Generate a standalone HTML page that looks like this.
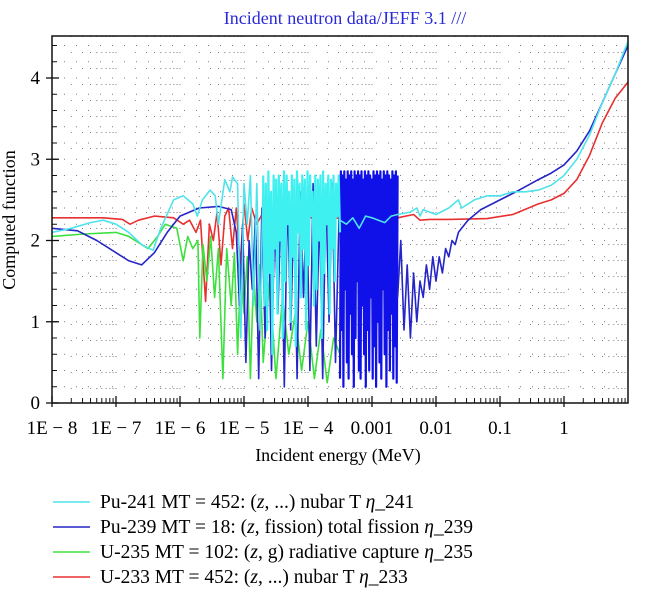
<!DOCTYPE html>
<html><head><meta charset="utf-8"><style>
html,body{margin:0;padding:0;background:#fff;width:653px;height:594px;overflow:hidden}
svg{display:block;font-family:"Liberation Serif",serif}
</style></head><body>
<svg id="chart" width="653" height="594" viewBox="0 0 653 594">
<text x="345" y="24" text-anchor="middle" font-size="18" fill="#2a2ad8">Incident neutron data/JEFF 3.1 ///</text>
<g id="grid"></g>
<g id="series"></g>
<g id="axes"></g>
<text transform="translate(15,220) rotate(-90)" text-anchor="middle" font-size="18">Computed function</text>
<text x="338" y="461" text-anchor="middle" font-size="18">Incident energy (MeV)</text>
<g font-size="19.5">
 <g><line x1="53" y1="502" x2="90" y2="502" stroke="#4fe3ec" stroke-width="1.5"/><text x="100" y="508">Pu-241 MT = 452: (<tspan font-style="italic">z</tspan>, ...) nubar T <tspan font-style="italic">η</tspan>_241</text></g>
 <g><line x1="53" y1="527" x2="90" y2="527" stroke="#2525c8" stroke-width="1.5"/><text x="100" y="533">Pu-239 MT = 18: (<tspan font-style="italic">z</tspan>, fission) total fission <tspan font-style="italic">η</tspan>_239</text></g>
 <g><line x1="53" y1="552" x2="90" y2="552" stroke="#3ee03e" stroke-width="1.5"/><text x="100" y="558">U-235 MT = 102: (<tspan font-style="italic">z</tspan>, g) radiative capture <tspan font-style="italic">η</tspan>_235</text></g>
 <g><line x1="53" y1="577" x2="90" y2="577" stroke="#e83030" stroke-width="1.5"/><text x="100" y="583">U-233 MT = 452: (<tspan font-style="italic">z</tspan>, ...) nubar T <tspan font-style="italic">η</tspan>_233</text></g>
</g>
</svg>
<script>
// log10(energy MeV) values
const xDecades = [-8,-7,-6,-5,-4,-3,-2,-1,0];
const xTickLabels = ["1E \u2212 8","1E \u2212 7","1E \u2212 6","1E \u2212 5","1E \u2212 4","0.001","0.01","0.1","1"];
const yTicks = [0,1,2,3,4];

const u233E = [-8,-7.2,-6.9,-6.78,-6.65,-6.4,-6.1,-5.95,-5.85,-5.75,-5.68,-5.6,-5.54,-5.48,-5.42,-5.36,-5.3,-5.24,-5.18,-5.12,-5.06,-5.0,-4.94,-4.88,-4.8,-4.7,-4.6,-4.5,-4.3,-3.8,-3.3,-2.6,-2.35,-2.25,-2.1,-1.8,-1.2,-0.8,-0.4,-0.2,0,0.2,0.4,0.6,0.8,1.0];
const u233Y = [2.28,2.28,2.26,2.2,2.25,2.3,2.28,2.2,2.25,2.1,2.25,1.25,2.2,2.0,2.35,1.7,2.3,2.4,1.9,2.4,1.7,2.45,2.0,2.4,2.2,2.35,2.1,2.3,2.28,2.28,2.27,2.28,2.32,2.25,2.26,2.26,2.27,2.32,2.45,2.5,2.58,2.75,3.05,3.45,3.75,3.95];

const u235E = [-8,-7.5,-7.0,-6.8,-6.6,-6.5,-6.35,-6.23,-6.05,-5.95,-5.88,-5.8,-5.72,-5.69,-5.64,-5.58,-5.52,-5.46,-5.4,-5.33,-5.27,-5.2,-5.15,-5.1,-5.05,-5.0,-4.95,-4.9,-4.85,-4.8,-4.75,-4.7,-4.6,-4.5,-4.4,-4.3,-4.2,-4.1,-4.0,-3.9,-3.8,-3.7,-3.6,-3.5];
const u235Y = [2.05,2.08,2.1,2.05,1.95,1.9,2.05,2.2,2.15,1.75,2.05,1.9,2.0,0.8,1.95,1.5,2.05,1.3,1.9,0.3,1.9,1.2,1.85,0.6,1.7,1.1,1.8,0.3,1.6,1.0,1.7,0.5,1.5,0.3,1.3,0.6,1.1,0.4,1.0,0.3,0.9,0.25,0.8,0.6];

const pu239E = [-8,-7.6,-7.3,-7.0,-6.8,-6.6,-6.4,-6.2,-6.0,-5.7,-5.4,-5.2,-5.12,-5.07,-5.02,-4.97,-4.92,-4.87,-4.82,-4.77,-4.72,-4.67,-4.62,-4.57,-4.52,-4.47,-4.42,-4.37,-4.32,-4.27,-4.22,-4.17,-4.12,-4.07,-4.02,-3.97,-3.92,-3.87,-3.82,-3.77,-3.72,-3.67,-3.62,-3.57,-3.5];
const pu239Y = [2.15,2.12,2.0,1.85,1.75,1.7,1.85,2.1,2.3,2.4,2.42,2.38,2.1,1.2,2.2,0.5,2.0,1.4,2.3,0.3,2.4,0.8,2.5,0.4,2.3,1.1,2.5,0.2,2.6,0.9,2.4,0.3,2.6,1.3,2.5,0.4,2.7,0.7,2.4,0.3,2.6,1.0,2.7,0.5,2.8];
const pu239DenseRange = [-3.5,-2.6];
const pu239DenseY = [0.3,2.85,0.9,2.8,0.2,2.85,1.4,2.75,0.5,2.85,0.3,2.8,1.1,2.85,0.6,2.75,0.2,2.85,0.8,2.8,1.5,2.85,0.4,2.8,0.3,2.85,1.2,2.75,0.6,2.85,0.2,2.8,0.9,2.85,0.4,2.8,1.3,2.75,0.3,2.85,0.7,2.8,0.2,2.85,1.0,2.8,0.5,2.85,0.3,2.75,1.4,2.85,0.6,2.8,0.2,2.85,0.9,2.8,0.4,2.75,1.1,2.85,0.3,2.8,0.7,2.85,0.25,2.8];
const pu239TailE = [-2.6,-2.55,-2.5,-2.45,-2.4,-2.35,-2.3,-2.25,-2.2,-2.15,-2.1,-2.05,-2.0,-1.95,-1.9,-1.85,-1.8,-1.75,-1.7,-1.65,-1.6,-1.5,-1.3,-1.0,-0.7,-0.4,-0.2,0,0.2,0.4,0.6,0.8,1.0];
const pu239TailY = [1.3,2.0,0.9,1.7,0.8,1.6,1.0,1.5,1.3,1.7,1.4,1.8,1.5,1.8,1.6,1.9,1.8,2.0,1.95,2.1,2.15,2.25,2.38,2.5,2.62,2.75,2.83,2.93,3.1,3.35,3.7,4.05,4.4];

const pu241E = [-8,-7.7,-7.4,-7.2,-7.0,-6.8,-6.6,-6.42,-6.3,-6.1,-5.95,-5.8,-5.73,-5.65,-5.53,-5.45,-5.4,-5.3,-5.22,-5.18,-5.1,-5.05,-5.0,-4.95,-4.9,-4.85,-4.8,-4.75,-4.7];
const pu241Y = [2.1,2.15,2.22,2.25,2.2,2.1,1.95,1.88,2.15,2.5,2.55,2.45,2.3,2.5,2.62,2.55,2.2,2.75,2.6,2.78,2.7,0.8,2.7,2.2,2.8,1.2,2.7,0.9,2.75];
const pu241DenseRange = [-4.7,-3.5];
const pu241DenseY = [2.8,1.2,2.7,0.9,2.85,1.6,2.6,0.6,2.8,1.9,2.75,1.1,2.8,2.0,2.7,0.8,2.85,1.5,2.8,2.2,2.6,1.0,2.8,1.8,2.75,0.7,2.85,2.1,2.7,1.3,2.8,1.9,2.75,0.9,2.85,1.7,2.8,2.3,2.6,1.2,2.8,1.4,2.75,2.0,2.8,0.8,2.85,1.6,2.7,2.2,2.8,1.1,2.75,1.9,2.8,1.5,2.7,2.3,2.8,2.1];
const pu241TailE = [-3.5,-3.4,-3.3,-3.2,-3.1,-3.0,-2.9,-2.8,-2.7,-2.6,-2.4,-2.3,-2.25,-2.2,-2.0,-1.8,-1.65,-1.6,-1.4,-1.2,-1.0,-0.8,-0.6,-0.4,-0.2,0,0.2,0.4,0.6,0.8,1.0];
const pu241TailY = [2.25,2.2,2.28,2.15,2.3,2.28,2.25,2.22,2.3,2.32,2.35,2.4,2.3,2.38,2.32,2.4,2.5,2.4,2.5,2.55,2.55,2.6,2.6,2.62,2.68,2.8,3.0,3.3,3.7,4.05,4.45];

const L=52,R=628,T=36,B=403;
const X = lx => L + (lx+8)*(R-L)/9;
const Y = v => B - v*81.25;
const NS="http://www.w3.org/2000/svg";
function mk(tag,attrs,parent){const e=document.createElementNS(NS,tag);for(const k in attrs)e.setAttribute(k,attrs[k]);parent.appendChild(e);return e;}
const grid=document.getElementById('grid'), axes=document.getElementById('axes'), series=document.getElementById('series');

for(let d=-8; d<1; d++){ for(let m=1;m<=9;m++){ const x=X(d+Math.log10(m)); if(x<=L+1) continue;
  const gl=mk('line',{x1:x,y1:T,x2:x,y2:B,stroke:'#444','stroke-width':1,'stroke-dasharray':'1 15',opacity:0.7},grid);
  
  
  const t=mk('line',{x1:x,y1:B,x2:x,y2:B-(m===1?0:5),stroke:'#111','stroke-width':1},axes);
  
  
}}
for(let i=1;i<=22;i++){ const y=Y(i*0.2); if(y<T+2) continue;
  const gl=mk('line',{x1:L,y1:y,x2:R,y2:y,stroke:'#444','stroke-width':1,'stroke-dasharray':'1 11',opacity:0.7},grid);
  
  
  const t=mk('line',{x1:L,y1:y,x2:L+5,y2:y,stroke:'#111','stroke-width':1},axes);
  
  
}

function poly(xs,ys,color,name,w){
  const pts=xs.map((x,i)=>X(x).toFixed(1)+','+Y(ys[i]).toFixed(1)).join(' ');
  const p=mk('polyline',{points:pts,fill:'none',stroke:color,'stroke-width':w||1.6,'stroke-linejoin':'round'},series);
  
  
}
function dense(range,ys,color,name){
  const xs=ys.map((_,i)=>range[0]+(range[1]-range[0])*i/(ys.length-1));
  poly(xs,ys,color,name,2.2);
}
poly(u233E,u233Y,'#e83030','series-u233');
poly(u235E,u235Y,'#3ee03e','series-u235');
poly(pu239E,pu239Y,'#2525c8','series-pu239');
dense(pu239DenseRange,pu239DenseY,'#1010e8','series-pu239-resonances');
poly(pu239TailE,pu239TailY,'#2525c8','series-pu239-tail');
poly(pu241E,pu241Y,'#4fe3ec','series-pu241');
dense(pu241DenseRange,pu241DenseY,'#3ff0f0','series-pu241-resonances');
poly(pu241TailE,pu241TailY,'#4fe3ec','series-pu241-tail');

const fr=mk('rect',{x:L,y:T,width:R-L,height:B-T,fill:'none',stroke:'#111','stroke-width':1.5},axes);


xDecades.forEach((d,i)=>{
  const x=X(d);
  const t=mk('line',{x1:x,y1:B-7,x2:x,y2:B+4,stroke:'#111','stroke-width':1.3},axes);
  
  
  const lb=mk('text',{x:x,y:434,'text-anchor':'middle','font-size':19},axes);
  lb.textContent=xTickLabels[i];
  
  
});
yTicks.forEach(v=>{
  const y=Y(v);
  const t=mk('line',{x1:L-6,y1:y,x2:L+7,y2:y,stroke:'#111','stroke-width':1.3},axes);
  
  
  const lb=mk('text',{x:L-12,y:y+6,'text-anchor':'end','font-size':19},axes);
  lb.textContent=String(v);
  
  
});
</script>
</body></html>
